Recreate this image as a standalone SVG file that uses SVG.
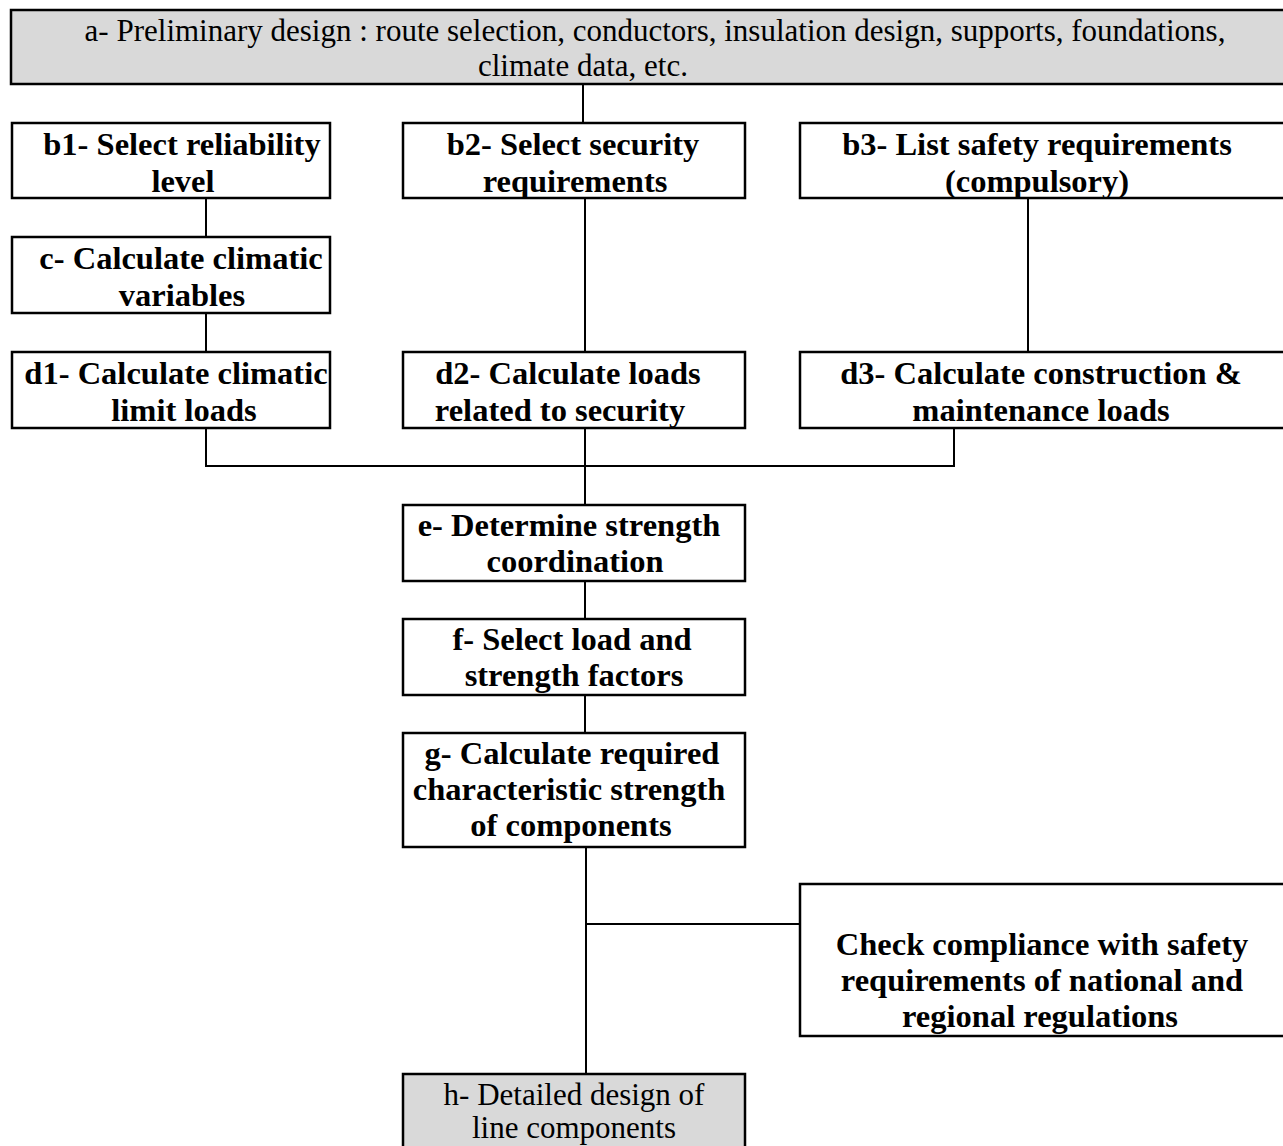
<svg xmlns="http://www.w3.org/2000/svg" width="1283" height="1146" viewBox="0 0 1283 1146">
<style>
.box{fill:#fff;stroke:#000;stroke-width:2.5}
.gray{fill:#d9d9d9;stroke:#000;stroke-width:2.5}
.b{font-family:"Liberation Serif","Times New Roman",serif;font-weight:bold;font-size:32.5px;fill:#000;text-anchor:middle}
.r{font-family:"Liberation Serif","Times New Roman",serif;font-size:31px;fill:#000;text-anchor:middle}
.c{fill:none;stroke:#000;stroke-width:2}
</style>
<rect width="1283" height="1146" fill="#fff"/>
<g id="connectors">
<path class="c" d="M583 84V123"/>
<path class="c" d="M206 198V237M206 313V352"/>
<path class="c" d="M585 198V352"/>
<path class="c" d="M1028 198V352"/>
<path class="c" d="M206 428V466H954V428M585 428V505"/>
<path class="c" d="M585 581V619M585 695V733"/>
<path class="c" d="M586 847V1074M586 924H800"/>
</g>
<g id="a"><rect class="gray" x="11" y="10" width="1290" height="74"/>
<text class="r" x="655" y="41">a- Preliminary design : route selection, conductors, insulation design, supports, foundations,</text>
<text class="r" x="583" y="76">climate data, etc.</text></g>
<g id="b1"><rect class="box" x="12" y="123" width="318" height="75"/>
<text class="b" x="182" y="155">b1- Select reliability</text><text class="b" x="183" y="192">level</text></g>
<g id="b2"><rect class="box" x="403" y="123" width="342" height="75"/>
<text class="b" x="573" y="155">b2- Select security</text><text class="b" x="575" y="192">requirements</text></g>
<g id="b3"><rect class="box" x="800" y="123" width="495" height="75"/>
<text class="b" x="1037" y="155">b3- List safety requirements</text><text class="b" x="1037" y="192">(compulsory)</text></g>
<g id="c"><rect class="box" x="12" y="237" width="318" height="76"/>
<text class="b" x="181" y="269">c- Calculate climatic</text><text class="b" x="182" y="306">variables</text></g>
<g id="d1"><rect class="box" x="12" y="352" width="318" height="76"/>
<text class="b" x="176" y="384">d1- Calculate climatic</text><text class="b" x="184" y="421">limit loads</text></g>
<g id="d2"><rect class="box" x="403" y="352" width="342" height="76"/>
<text class="b" x="568" y="384">d2- Calculate loads</text><text class="b" x="560" y="421">related to security</text></g>
<g id="d3"><rect class="box" x="800" y="352" width="495" height="76"/>
<text class="b" x="1041" y="384">d3- Calculate construction &amp;</text><text class="b" x="1041" y="421">maintenance loads</text></g>
<g id="e"><rect class="box" x="403" y="505" width="342" height="76"/>
<text class="b" x="569" y="536">e- Determine strength</text><text class="b" x="575" y="572">coordination</text></g>
<g id="f"><rect class="box" x="403" y="619" width="342" height="76"/>
<text class="b" x="572" y="650">f- Select load and</text><text class="b" x="574" y="686">strength factors</text></g>
<g id="g"><rect class="box" x="403" y="733" width="342" height="114"/>
<text class="b" x="572" y="764">g- Calculate required</text><text class="b" x="569" y="800">characteristic strength</text><text class="b" x="571" y="836">of components</text></g>
<g id="check"><rect class="box" x="800" y="884" width="495" height="152"/>
<text class="b" x="1042" y="955">Check compliance with safety</text><text class="b" x="1042" y="991">requirements of national and</text><text class="b" x="1040" y="1027">regional regulations</text></g>
<g id="h"><rect class="gray" x="403" y="1074" width="342" height="90"/>
<text class="r" x="574" y="1105">h- Detailed design of</text><text class="r" x="574" y="1138">line components</text></g>
</svg>
